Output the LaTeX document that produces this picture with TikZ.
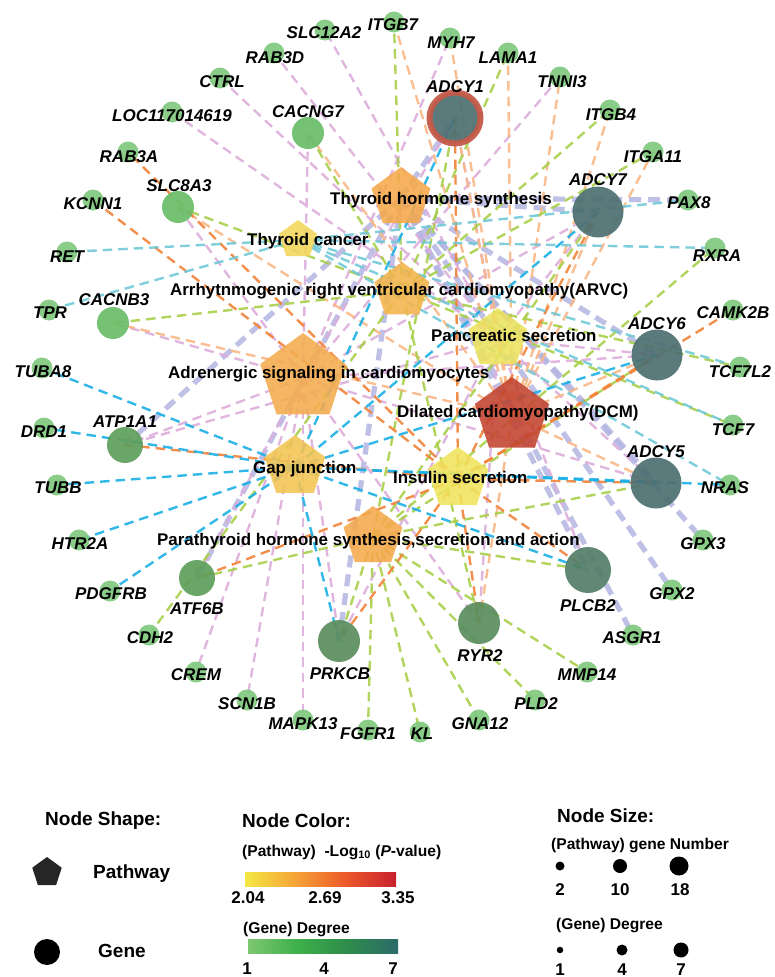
\documentclass[tikz,border=0pt]{standalone}
\usepackage{fontspec}
\setmainfont{Liberation Sans}
\usetikzlibrary{shapes.geometric}
\pgfdeclarelayer{edges}
\pgfsetlayers{edges,main}
\definecolor{cLav}{HTML}{B3B5E1}
\definecolor{cTeal}{HTML}{70C9D7}
\definecolor{cBlue}{HTML}{1CB0E6}
\definecolor{cPeach}{HTML}{F8B786}
\definecolor{cDOr}{HTML}{F2833A}
\definecolor{cLime}{HTML}{A8D04A}
\definecolor{cPink}{HTML}{DDAEDB}
\definecolor{gL}{HTML}{80C97E}
\definecolor{gM}{HTML}{69BD69}
\definecolor{gD}{HTML}{5E9E5C}
\definecolor{gDD}{HTML}{5A8D5E}
\definecolor{gP}{HTML}{537E68}
\definecolor{gA}{HTML}{4D6F71}
\definecolor{ringR}{HTML}{C55A48}
\definecolor{pTH}{HTML}{F6A84A}
\definecolor{pTC}{HTML}{F2D65A}
\definecolor{pARVC}{HTML}{F3B44C}
\definecolor{pPS}{HTML}{ECE25E}
\definecolor{pAD}{HTML}{F4AC4E}
\definecolor{pDCM}{HTML}{C2432E}
\definecolor{pGJ}{HTML}{F2C452}
\definecolor{pIS}{HTML}{EFE35C}
\definecolor{pPT}{HTML}{F5A84C}
\definecolor{sY1}{HTML}{F4E842}
\definecolor{sY2}{HTML}{F5A337}
\definecolor{sY3}{HTML}{EC582A}
\definecolor{sY4}{HTML}{C8202F}
\definecolor{sG1}{HTML}{7DC771}
\definecolor{sG2}{HTML}{3DB049}
\definecolor{sG3}{HTML}{2E8B4C}
\definecolor{sG4}{HTML}{2C6B6A}
\tikzset{
  gene/.style={circle, inner sep=0, outer sep=0, minimum size=#1, draw=none, fill opacity=0.92},
  gene/.default=21pt,
  pw/.style={regular polygon, regular polygon sides=5, inner sep=0, outer sep=0, minimum size=#1, draw=none, fill opacity=0.88},
  plab/.style={font=\fontsize{16.9}{20}\selectfont\bfseries, inner sep=0, anchor=base west},
  glab/.style={font=\fontsize{17}{20}\selectfont\bfseries\itshape, inner sep=0, anchor=base},
  lgt/.style={font=\fontsize{19}{22}\selectfont\bfseries, inner sep=0, anchor=base west},
  lgs/.style={font=\fontsize{15.6}{18}\selectfont\bfseries, inner sep=0, anchor=base west},
  lgn/.style={font=\fontsize{17}{20}\selectfont\bfseries, inner sep=0, anchor=base},
  ebase/.style={line width=2.4pt, dash pattern=on 9.5pt off 6pt, opacity=0.9},
  eTH/.style={line width=5.2pt, dash pattern=on 12pt off 7pt, draw=cLav, opacity=0.85},
  eTC/.style={ebase, draw=cTeal},
  eGJ/.style={ebase, draw=cBlue},
  eDCM/.style={ebase, draw=cPeach},
  eIS/.style={ebase, draw=cDOr},
  eLime/.style={ebase, draw=cLime},
  ePink/.style={ebase, draw=cPink},
  dot/.style={circle, fill=black, inner sep=0, minimum size=#1}
}
\begin{document}
\begin{tikzpicture}[x=1pt,y=-1pt]
\useasboundingbox (0,0) rectangle (774,977);
% ---------------- gene nodes ----------------
\foreach \n/\x/\y in {SLC12A2/325/30, RAB3D/274/53, CTRL/220/78, LOC117014619/172/112, RAB3A/128/152, KCNN1/93/200, RET/67/252, TPR/49/310, TUBA8/42/368, DRD1/44/428, TUBB/57/485, HTR2A/79/540, PDGFRB/110/591, CDH2/149/635, CREM/196/672, SCN1B/247/700, MAPK13/303/720, FGFR1/368/730, KL/420/732, GNA12/479/720, PLD2/535/700, MMP14/587/672, ASGR1/633/635, GPX2/672/590, GPX3/703/540, NRAS/730/485, TCF7/733/425, TCF7L2/740/367, CAMK2B/733/310, RXRA/715/248, PAX8/688/200, ITGA11/653/152, ITGB4/610/110, TNNI3/560/77, LAMA1/508/53, MYH7/450/38, ITGB7/394/22}
  {\node[gene, fill=gL] (\n) at (\x,\y) {};}
\foreach \n/\x/\y in {CACNG7/308/133, SLC8A3/178/207, CACNB3/113/323}
  {\node[gene=32pt, fill=gM] (\n) at (\x,\y) {};}
\foreach \n/\x/\y in {ATP1A1/125/445, ATF6B/197/578}
  {\node[gene=36pt, fill=gD] (\n) at (\x,\y) {};}
\foreach \n/\x/\y in {PRKCB/339/641, RYR2/479/623}
  {\node[gene=42pt, fill=gDD] (\n) at (\x,\y) {};}
\node[gene=46pt, fill=gP] (PLCB2) at (588,570) {};
\foreach \n/\x/\y in {ADCY5/656/483, ADCY6/657/355, ADCY7/598/212}
  {\node[gene=51pt, fill=gA] (\n) at (\x,\y) {};}
\node[gene=51pt, fill=gA, draw=ringR, line width=6pt, draw opacity=0.95] (ADCY1) at (455,118) {};
% ---------------- pathway nodes ----------------
\node[pw=62pt, fill=pTH] (TH) at (401,198) {};
\node[pw=40pt, fill=pTC] (TC) at (298,240) {};
\node[pw=58pt, fill=pARVC] (ARVC) at (402,291) {};
\node[pw=62pt, fill=pPS] (PS) at (498,339) {};
\node[pw=90pt, fill=pAD] (AD) at (303,378) {};
\node[pw=78pt, fill=pDCM] (DCM) at (512,416) {};
\node[pw=64pt, fill=pGJ] (GJ) at (295,467) {};
\node[pw=64pt, fill=pIS] (IS) at (458,479) {};
\node[pw=62pt, fill=pPT] (PT) at (373,537) {};
% ---------------- edges ----------------
\begin{pgfonlayer}{edges}
\foreach \g in {ADCY1,ADCY5,ADCY6,ADCY7,ATP1A1,ATF6B,PRKCB,PLCB2,ASGR1,GPX2,GPX3,PAX8}
  {\draw[eTH] (TH.center) -- (\g.center);}
\foreach \g in {SLC12A2,RAB3D,CTRL,LOC117014619,ATP1A1,ADCY1,ADCY5,ADCY6,ADCY7,PRKCB,PLCB2,RYR2}
  {\draw[ePink] (PS.center) -- (\g.center);}
\foreach \g in {CACNG7,CACNB3,SLC8A3,ATP1A1,ATF6B,CREM,SCN1B,MAPK13,PRKCB,RYR2,MYH7,TNNI3,ADCY1,ADCY5,ADCY6,ADCY7}
  {\draw[ePink] (AD.center) -- (\g.center);}
\foreach \g in {ITGB7,MYH7,LAMA1,TNNI3,ITGB4,ITGA11,CACNG7,CACNB3,SLC8A3,RYR2,ADCY1,ADCY5,ADCY6,ADCY7}
  {\draw[eDCM] (DCM.center) -- (\g.center);}
\foreach \g in {ITGB7,LAMA1,ITGB4,ITGA11,CACNG7,CACNB3,SLC8A3,CDH2,TCF7,TCF7L2,RYR2}
  {\draw[eLime] (ARVC.center) -- (\g.center);}
\foreach \g in {FGFR1,KL,GNA12,PLD2,MMP14,RXRA,ATF6B,PRKCB,PLCB2,ADCY1,ADCY5,ADCY6,ADCY7}
  {\draw[eLime] (PT.center) -- (\g.center);}
\foreach \g in {RAB3A,KCNN1,ATP1A1,ATF6B,CAMK2B,PRKCB,RYR2,PLCB2,ADCY1,ADCY5,ADCY6,ADCY7}
  {\draw[eIS] (IS.center) -- (\g.center);}
\foreach \g in {TUBA8,DRD1,TUBB,HTR2A,PDGFRB,PRKCB,PLCB2,NRAS,ADCY1,ADCY5,ADCY6,ADCY7}
  {\draw[eGJ] (GJ.center) -- (\g.center);}
\foreach \g in {RET,TPR,PAX8,RXRA,TCF7L2,TCF7,NRAS}
  {\draw[eTC] (TC.center) -- (\g.center);}
\end{pgfonlayer}
% ---------------- pathway labels ----------------
\node[plab] (lTH) at (330,204) {Thyroid hormone synthesis};
\node[plab] (lTC) at (247,245) {Thyroid cancer};
\node[plab] (lARVC) at (170,295) {Arrhytnmogenic right ventricular cardiomyopathy(ARVC)};
\node[plab] (lPS) at (431,341) {Pancreatic secretion};
\node[plab] (lAD) at (168,378) {Adrenergic signaling in cardiomyocytes};
\node[plab] (lDCM) at (397,417) {Dilated cardiomyopathy(DCM)};
\node[plab] (lGJ) at (253,473) {Gap junction};
\node[plab] (lIS) at (393,483) {Insulin secretion};
\node[plab] (lPT) at (157,545) {Parathyroid hormone synthesis,secretion and action};
% ---------------- gene labels ----------------
\foreach \n/\x/\y in {SLC12A2/324/38, RAB3D/275/63, CTRL/222/87, LOC117014619/172/121, CACNG7/308/117, RAB3A/129/162, SLC8A3/179/191, KCNN1/93/209, RET/67/262, ITGB7/393/30, MYH7/451/48, LAMA1/508/63, TNNI3/562/87, ADCY1/455/92, ITGB4/611/120, ITGA11/653/162, ADCY7/598/185, PAX8/689/208, RXRA/717/261, TPR/50/318, CACNB3/114/305, TUBA8/43/377, DRD1/44/437, ATP1A1/125/427, TUBB/58/493, CAMK2B/733/318, ADCY6/657/329, TCF7L2/740/377, TCF7/733/435, ADCY5/656/457, NRAS/725/493, HTR2A/80/549, PDGFRB/111/599, ATF6B/197/614, CDH2/150/643, CREM/196/680, SCN1B/247/709, MAPK13/303/729, PRKCB/340/679, FGFR1/368/739, KL/422/739, GNA12/480/729, PLD2/536/709, MMP14/587/680, RYR2/480/661, PLCB2/588/611, ASGR1/632/643, GPX2/672/599, GPX3/703/549}
  {\node[glab] (l\n) at (\x,\y) {\n};}
% ---------------- legend ----------------
\node[lgt] (lgShape) at (45,825) {Node Shape:};
\node[regular polygon, regular polygon sides=5, inner sep=0, minimum size=31pt, fill=black!85] (lgPent) at (47,872.5) {};
\node[lgt] (lgPath) at (93,878) {Pathway};
\node[circle, inner sep=0, minimum size=26pt, fill=black] (lgCirc) at (47,952) {};
\node[lgt] (lgGene) at (98,957) {Gene};
\node[lgt] (lgColor) at (242,827) {Node Color:};
\node[lgs] (lgPv) at (242,856) {(Pathway)\ \ -Log\textsubscript{10} (\textit{P}-value)};
\shade[left color=sY1, right color=sY2] (245,872) rectangle (296,886);
\shade[left color=sY2, right color=sY3] (296,872) rectangle (346,886);
\shade[left color=sY3, right color=sY4] (346,872) rectangle (396,886);
\node[lgn] (lgA1) at (248,903) {2.04};
\node[lgn] (lgA2) at (325,903) {2.69};
\node[lgn] (lgA3) at (398,903) {3.35};
\node[lgs] (lgDeg) at (243,933) {(Gene) Degree};
\shade[left color=sG1, right color=sG2] (248,939) rectangle (298,953);
\shade[left color=sG2, right color=sG3] (298,939) rectangle (348,953);
\shade[left color=sG3, right color=sG4] (348,939) rectangle (398,953);
\node[lgn] (lgB1) at (247,974) {1};
\node[lgn] (lgB2) at (324,974) {4};
\node[lgn] (lgB3) at (393,974) {7};
\node[lgt] (lgSize) at (557,822) {Node Size:};
\node[lgs] (lgGN) at (551,849) {(Pathway) gene Number};
\node[dot=9pt] (lgD1) at (560,866) {};
\node[dot=14pt] (lgD2) at (620,866) {};
\node[dot=19pt] (lgD3) at (679,866) {};
\node[lgn] (lgC1) at (560,895) {2};
\node[lgn] (lgC2) at (620,895) {10};
\node[lgn] (lgC3) at (680,895) {18};
\node[lgs] (lgDeg2) at (556,929) {(Gene) Degree};
\node[dot=6.5pt] (lgE1) at (560,950) {};
\node[dot=11pt] (lgE2) at (622,950) {};
\node[dot=15pt] (lgE3) at (681,950) {};
\node[lgn] (lgF1) at (560,975) {1};
\node[lgn] (lgF2) at (622,975) {4};
\node[lgn] (lgF3) at (681,975) {7};
\end{tikzpicture}
\end{document}
